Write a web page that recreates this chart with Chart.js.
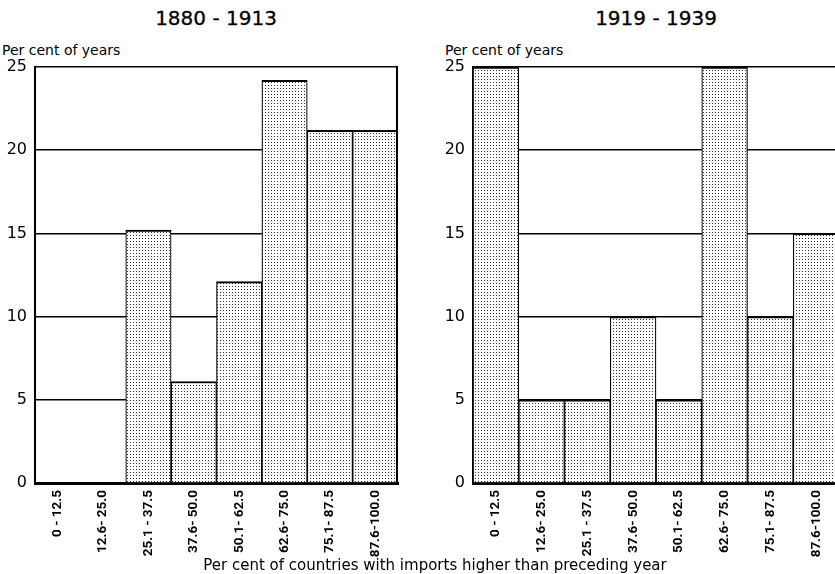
<!DOCTYPE html>
<html>
<head>
<meta charset="utf-8">
<script src="https://cdn.jsdelivr.net/npm/chart.js@4/dist/chart.umd.min.js"></script>
<style>
  html, body { margin: 0; padding: 0; background: #fff; }
  body { width: 835px; height: 574px; overflow: hidden; position: relative; font-family: "DejaVu Sans", sans-serif; color: #000; }
  canvas { position: absolute; top: 0; }
  #leftChart { left: 0; }
  #rightChart { left: 438px; }
  .txt { position: absolute; white-space: nowrap; line-height: 1; }
  .head { font-size: 20px; top: 8px; transform: translateX(-50%); -webkit-text-stroke: 0.3px #000; }
  .ylab { font-size: 14px; top: 43px; }
  .xlab { font-size: 15px; top: 558px; left: 435px; transform: translateX(-50%); }
</style>
</head>
<body>
<div class="txt head" style="left:216px">1880 - 1913</div>
<div class="txt head" style="left:656px">1919 - 1939</div>
<div class="txt ylab" style="left:2px">Per cent of years</div>
<div class="txt ylab" style="left:445px">Per cent of years</div>
<canvas id="leftChart" width="400" height="574"></canvas>
<canvas id="rightChart" width="403" height="574"></canvas>
<div class="txt xlab">Per cent of countries with imports higher than preceding year</div>
<script>
'use strict';

// Data
const categories = ['0 - 12.5', '12.6- 25.0', '25.1 - 37.5', '37.6- 50.0', '50.1- 62.5', '62.6- 75.0', '75.1- 87.5', '87.6-100.0'];
const yearsPre = [0, 0, 15.2, 6.1, 12.1, 24.2, 21.2, 21.2];     // 1880-1913
const yearsInter = [25, 5, 5, 10, 5, 25, 10, 15];             // 1919-1939
const yTicks = [0, 5, 10, 15, 20, 25];

// stipple fill
function makeDots(){
  const c = document.createElement('canvas');
  c.width = 3; c.height = 3;
  const g = c.getContext('2d');
  g.fillStyle = '#fff'; g.fillRect(0, 0, 3, 3);
  g.fillStyle = '#333'; g.fillRect(1, 1, 1, 1);
  return g.createPattern(c, 'repeat');
}

// right edge of the plot box
const frame = {
  id: 'frame',
  afterDatasetsDraw(chart){
    const a = chart.chartArea, ctx = chart.ctx;
    ctx.save();
    ctx.strokeStyle = '#000'; ctx.lineWidth = 2;
    ctx.beginPath(); ctx.moveTo(a.right - 1, a.top); ctx.lineTo(a.right - 1, a.bottom); ctx.stroke();
    ctx.restore();
  }
};

function makeChart(id, values){
  const ctx = document.getElementById(id).getContext('2d');
  return new Chart(ctx, {
    type: 'bar',
    data: {
      labels: categories,
      datasets: [{
        data: values,
        backgroundColor: makeDots(),
        borderColor: '#000',
        borderWidth: { top: 2, left: 1.2, right: 1.2, bottom: 0 },
        borderSkipped: false,
        categoryPercentage: 1,
        barPercentage: 1
      }]
    },
    options: {
      responsive: false,
      animation: false,
      layout: { padding: { top: 67, right: 2, bottom: 0, left: 0 } },
      plugins: { legend: { display: false }, tooltip: { enabled: false }, title: { display: false } },
      scales: {
        x: {
          grid: { display: false, drawTicks: false },
          border: { color: '#000', width: 3 },
          ticks: { color: '#000', minRotation: 90, maxRotation: 90, padding: 7, autoSkip: false,
                   font: { family: 'Roboto', size: 13.5, weight: 'bold' } },
          afterFit: (s) => { s.height = 91; }
        },
        y: {
          min: 0, max: 25,
          afterBuildTicks: (s) => { s.ticks = yTicks.map(v => ({ value: v })); },
          grid: { color: '#000', lineWidth: 1.5, drawTicks: false },
          border: { color: '#000', width: 2 },
          ticks: { color: '#000', padding: 8, font: { family: 'DejaVu Sans', size: 16 } },
          afterFit: (s) => { s.width = 35; }
        }
      }
    },
    plugins: [frame]
  });
}

makeChart('leftChart', yearsPre);
makeChart('rightChart', yearsInter);
</script>
</body>
</html>
